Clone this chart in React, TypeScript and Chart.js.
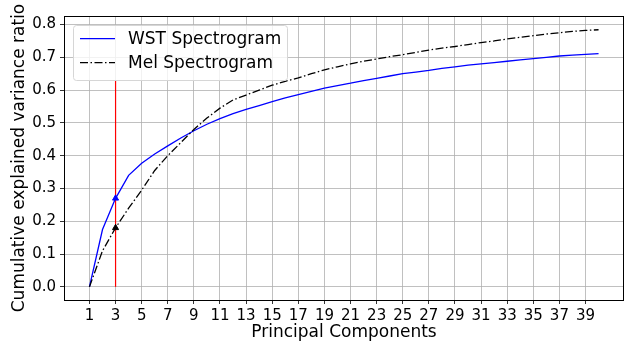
import React, { useEffect, useRef } from 'react';
import { Chart, registerables } from 'chart.js';

Chart.register(...registerables);

const components = [
  1, 2, 3, 4, 5, 6, 7, 8, 9, 10, 11, 12, 13, 14, 15, 16, 17, 18, 19, 20,
  21, 22, 23, 24, 25, 26, 27, 28, 29, 30, 31, 32, 33, 34, 35, 36, 37, 38, 39, 40,
];
const wstRatio = [
  0, 0.175, 0.27, 0.34, 0.377, 0.405, 0.43, 0.454, 0.476, 0.496,
  0.513, 0.528, 0.541, 0.553, 0.565, 0.576, 0.586, 0.596, 0.606, 0.614,
  0.621, 0.629, 0.636, 0.643, 0.65, 0.655, 0.66, 0.666, 0.671, 0.676,
  0.68, 0.684, 0.688, 0.692, 0.696, 0.7, 0.704, 0.707, 0.709, 0.711,
];
const melRatio = [
  0, 0.11, 0.18, 0.24, 0.295, 0.355, 0.4, 0.44, 0.48, 0.515,
  0.545, 0.57, 0.585, 0.6, 0.615, 0.627, 0.637, 0.65, 0.662, 0.671,
  0.68, 0.688, 0.695, 0.702, 0.708, 0.715, 0.722, 0.728, 0.733, 0.739,
  0.745, 0.75, 0.756, 0.761, 0.766, 0.771, 0.775, 0.779, 0.782, 0.784,
];
const xTickValues = [1, 3, 5, 7, 9, 11, 13, 15, 17, 19, 21, 23, 25, 27, 29, 31, 33, 35, 37, 39];
const yTickValues = [0, 0.1, 0.2, 0.3, 0.4, 0.5, 0.6, 0.7, 0.8];
const selectedComponent = 3;
const selectedLineTop = 0.63;
const seriesLabels = ['WST Spectrogram', 'Mel Spectrogram'];
const xTitle = 'Principal Components';
const yTitle = 'Cumulative explained variance ratio';

const FONT = '"DejaVu Sans", sans-serif';
const DASH_DOT = [8, 2.5, 1.5, 2.5];

const framePlugin = {
  id: 'frame',
  afterDatasetsDraw(chart: any) {
    const { ctx, chartArea } = chart;
    ctx.save();
    ctx.strokeStyle = '#000';
    ctx.lineWidth = 1;
    ctx.strokeRect(
      Math.round(chartArea.left) + 0.5,
      Math.round(chartArea.top) + 0.5,
      Math.round(chartArea.right - chartArea.left) - 1,
      Math.round(chartArea.bottom - chartArea.top)
    );
    ctx.restore();
  },
};

const legendPlugin = {
  id: 'innerLegend',
  afterDraw(chart: any) {
    const { ctx } = chart;
    ctx.save();
    const x = 73.5, y = 25.5, w = 214, h = 55, r = 3;
    ctx.beginPath();
    ctx.moveTo(x + r, y);
    ctx.lineTo(x + w - r, y);
    ctx.arcTo(x + w, y, x + w, y + r, r);
    ctx.lineTo(x + w, y + h - r);
    ctx.arcTo(x + w, y + h, x + w - r, y + h, r);
    ctx.lineTo(x + r, y + h);
    ctx.arcTo(x, y + h, x, y + h - r, r);
    ctx.lineTo(x, y + r);
    ctx.arcTo(x, y, x + r, y, r);
    ctx.closePath();
    ctx.fillStyle = 'rgba(255,255,255,0.8)';
    ctx.fill();
    ctx.strokeStyle = '#d6d6d6';
    ctx.lineWidth = 1;
    ctx.stroke();

    const rows = [
      { label: seriesLabels[0], color: '#0000ff', dash: [] as number[], y: 38.7 },
      { label: seriesLabels[1], color: '#000000', dash: DASH_DOT, y: 62.7 },
    ];
    ctx.font = `17px ${FONT}`;
    ctx.textBaseline = 'middle';
    ctx.textAlign = 'left';
    for (const row of rows) {
      ctx.beginPath();
      ctx.setLineDash(row.dash);
      ctx.strokeStyle = row.color;
      ctx.lineWidth = 1.3;
      ctx.moveTo(80, row.y);
      ctx.lineTo(115, row.y);
      ctx.stroke();
      ctx.setLineDash([]);
      ctx.fillStyle = '#000';
      ctx.fillText(row.label, 128, row.y + 1);
    }
    ctx.restore();
  },
};

export default function App() {
  const canvasRef = useRef<HTMLCanvasElement | null>(null);

  useEffect(() => {
    document.body.style.margin = '0';
    const canvas = canvasRef.current;
    if (!canvas) return;

    const wstPoints = components.map((c, i) => ({ x: c, y: wstRatio[i] }));
    const melPoints = components.map((c, i) => ({ x: c, y: melRatio[i] }));
    const idx = components.indexOf(selectedComponent);

    const chart = new Chart(canvas, {
      type: 'line',
      data: {
        datasets: [
          {
            label: 'WST marker',
            data: [{ x: selectedComponent, y: wstRatio[idx] }],
            showLine: false,
            pointStyle: 'triangle',
            pointRadius: 3.5,
            backgroundColor: '#0000ff',
            borderColor: '#0000ff',
            borderWidth: 1,
          },
          {
            label: 'Mel marker',
            data: [{ x: selectedComponent, y: melRatio[idx] }],
            showLine: false,
            pointStyle: 'triangle',
            pointRadius: 3.5,
            backgroundColor: '#000000',
            borderColor: '#000000',
            borderWidth: 1,
          },
          {
            label: 'selected',
            data: [
              { x: selectedComponent, y: 0 },
              { x: selectedComponent, y: selectedLineTop },
            ],
            borderColor: '#ff0000',
            borderWidth: 1.2,
            pointRadius: 0,
          },
          {
            label: seriesLabels[1],
            data: melPoints,
            borderColor: '#000000',
            borderWidth: 1.3,
            borderDash: DASH_DOT,
            pointRadius: 0,
            tension: 0,
          },
          {
            label: seriesLabels[0],
            data: wstPoints,
            borderColor: '#0000ff',
            borderWidth: 1.3,
            pointRadius: 0,
            tension: 0,
          },
        ],
      },
      options: {
        animation: false,
        responsive: false,
        devicePixelRatio: 1,
        layout: { padding: { top: 16, right: 1, left: 0, bottom: 0 } },
        plugins: {
          legend: { display: false },
          tooltip: { enabled: false },
        },
        scales: {
          x: {
            type: 'linear',
            min: -0.95,
            max: 41.95,
            afterBuildTicks: (scale: any) => {
              scale.ticks = xTickValues.map((v) => ({ value: v }));
            },
            afterFit: (scale: any) => {
              scale.height = 43;
            },
            ticks: {
              autoSkip: false,
              maxRotation: 0,
              padding: 3,
              color: '#000',
              font: { family: FONT, size: 15 },
              callback: (v: any) => String(v),
            },
            grid: {
              color: '#b0b0b0',
              lineWidth: 0.8,
              tickColor: '#000',
              tickLength: 4,
            },
            border: { display: false },
            title: {
              display: true,
              text: xTitle,
              color: '#000',
              font: { family: FONT, size: 17 },
              padding: { top: 0, bottom: 0 },
            },
          },
          y: {
            type: 'linear',
            min: -0.04,
            max: 0.826,
            afterBuildTicks: (scale: any) => {
              scale.ticks = yTickValues.map((v) => ({ value: v }));
            },
            afterFit: (scale: any) => {
              scale.width = 64;
            },
            ticks: {
              padding: 4,
              color: '#000',
              font: { family: FONT, size: 15 },
              callback: (v: any) => Number(v).toFixed(1),
            },
            grid: {
              color: '#b0b0b0',
              lineWidth: 0.8,
              tickColor: '#000',
              tickLength: 4,
            },
            border: { display: false },
            title: {
              display: true,
              text: yTitle,
              color: '#000',
              font: { family: FONT, size: 17 },
              padding: { top: 9, bottom: 0 },
            },
          },
        },
      },
      plugins: [framePlugin, legendPlugin],
    } as any);

    return () => chart.destroy();
  }, []);

  return <canvas ref={canvasRef} width={629} height={343} style={{ display: 'block' }} />;
}
